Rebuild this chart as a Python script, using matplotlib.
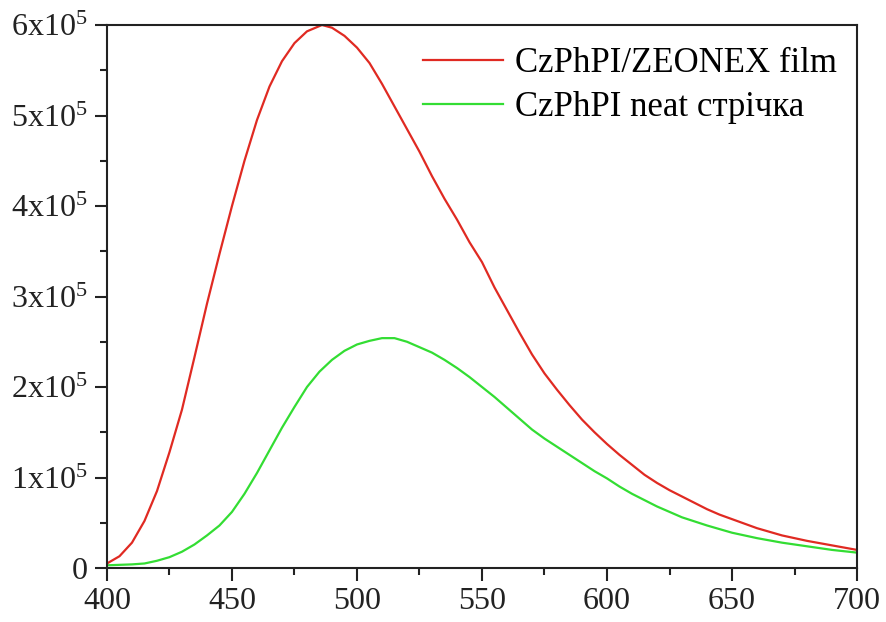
import matplotlib
matplotlib.use("Agg")
import matplotlib.pyplot as plt
from matplotlib.ticker import MultipleLocator, FixedLocator

plt.rcParams['font.family'] = ['Liberation Serif', 'DejaVu Serif']
plt.rcParams['mathtext.fontset'] = 'custom'
plt.rcParams['mathtext.rm'] = 'Liberation Serif'
plt.rcParams['mathtext.it'] = 'Liberation Serif'

# Wavelength (nm) and intensity (units of 1e5)
wl_film = [400, 405, 410, 415, 420, 425, 430, 435, 440, 445, 450, 455, 460, 465,
           470, 475, 480, 486, 490, 495, 500, 505, 510, 515, 520, 525, 530, 535,
           540, 545, 550, 555, 560, 565, 570, 575, 580, 585, 590, 595, 600, 605,
           610, 615, 620, 625, 630, 635, 640, 645, 650, 660, 670, 680, 690, 700]
int_film = [0.05, 0.13, 0.28, 0.52, 0.85, 1.28, 1.75, 2.33, 2.92, 3.47, 4.0, 4.5, 4.95, 5.32,
            5.6, 5.8, 5.93, 6.0, 5.97, 5.88, 5.75, 5.58, 5.35, 5.1, 4.85, 4.6, 4.33, 4.08,
            3.85, 3.6, 3.38, 3.1, 2.85, 2.6, 2.36, 2.15, 1.97, 1.8, 1.64, 1.5, 1.37, 1.25,
            1.14, 1.03, 0.94, 0.86, 0.79, 0.72, 0.65, 0.59, 0.54, 0.44, 0.36, 0.3, 0.25, 0.2]

wl_neat = [400, 410, 415, 420, 425, 430, 435, 440, 445, 450, 455, 460, 465, 470,
           475, 480, 485, 490, 495, 500, 505, 510, 515, 520, 525, 530, 535, 540,
           545, 550, 555, 560, 565, 570, 575, 580, 585, 590, 595, 600, 605, 610,
           615, 620, 625, 630, 640, 650, 660, 670, 680, 690, 700]
int_neat = [0.03, 0.04, 0.05, 0.08, 0.12, 0.18, 0.26, 0.36, 0.47, 0.62, 0.82, 1.05, 1.3, 1.55,
            1.78, 2.0, 2.17, 2.3, 2.4, 2.47, 2.51, 2.54, 2.54, 2.5, 2.44, 2.38, 2.3, 2.21,
            2.11, 2.0, 1.89, 1.77, 1.65, 1.53, 1.43, 1.34, 1.25, 1.16, 1.07, 0.99, 0.9, 0.82,
            0.75, 0.68, 0.62, 0.56, 0.47, 0.39, 0.33, 0.28, 0.24, 0.2, 0.17]

labels = ['CzPhPI/ZEONEX film', 'CzPhPI neat стрічка']
yticks = [0, 1, 2, 3, 4, 5, 6]
ytick_labels = ['0', '1x10$^{5}$', '2x10$^{5}$', '3x10$^{5}$', '4x10$^{5}$', '5x10$^{5}$', '6x10$^{5}$']
xticks = [400, 450, 500, 550, 600, 650, 700]

fig = plt.figure(figsize=(8.87, 6.22), dpi=100)
ax = fig.add_axes([0.1206, 0.0868, 0.9662 - 0.1206, 0.9598 - 0.0868])

ax.plot(wl_film, int_film, color='#e02a22', lw=1.6, label=labels[0])
ax.plot(wl_neat, int_neat, color='#33dd33', lw=1.6, label=labels[1])

ax.set_xlim(400, 700)
ax.set_ylim(0, 6)
ax.xaxis.set_major_locator(FixedLocator(xticks))
ax.xaxis.set_minor_locator(MultipleLocator(25))
ax.yaxis.set_major_locator(FixedLocator(yticks))
ax.yaxis.set_minor_locator(MultipleLocator(0.5))
ax.set_yticklabels(ytick_labels)
ax.set_xticklabels([str(v) for v in xticks])

for s in ax.spines.values():
    s.set_linewidth(1.5)
    s.set_color('#222222')
ax.tick_params(which='major', direction='out', length=9, width=1.5, labelsize=23, pad=5,
               colors='#222222', labelcolor='#222222')
ax.tick_params(which='minor', direction='out', length=5, width=1.5, colors='#222222')
ax.tick_params(top=False, right=False, which='both')

leg = ax.legend(loc='upper right', bbox_to_anchor=(0.992, 0.985), frameon=False,
                fontsize=25, handlelength=2.3, handletextpad=0.35, labelspacing=0.32,
                borderaxespad=0.0)

fig.savefig('out.png', dpi=100, facecolor='white')
